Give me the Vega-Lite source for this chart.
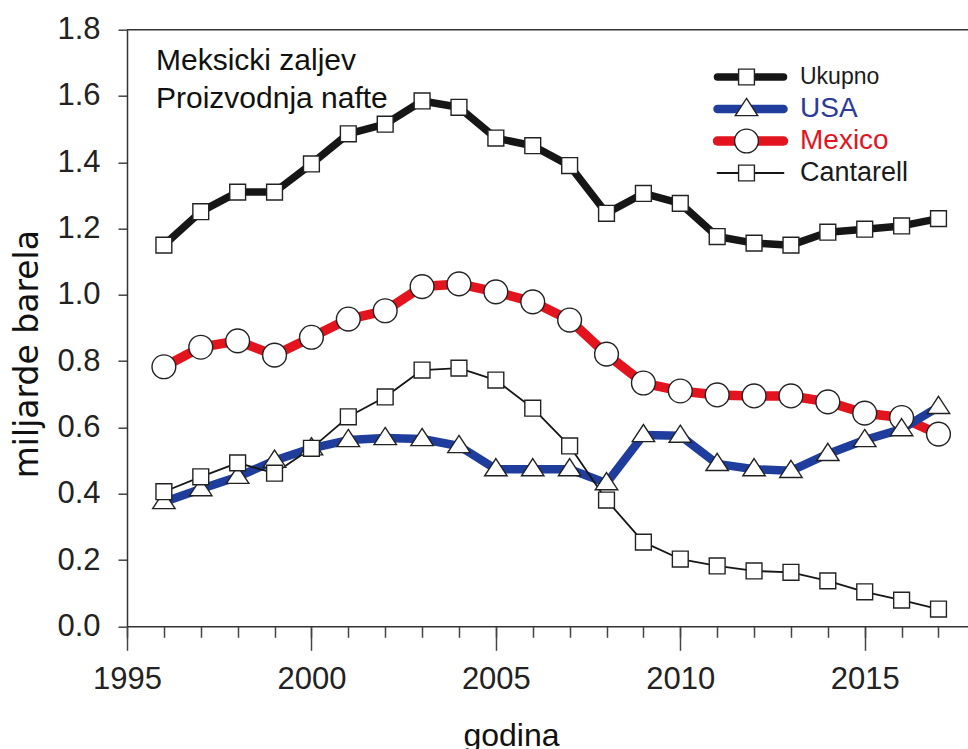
{
  "$schema": "https://vega.github.io/schema/vega-lite/v6.json",
  "width": 841,
  "height": 596.6,
  "autosize": {"type": "none"},
  "padding": {"left": 127, "top": 29.7, "right": 0, "bottom": 122.7},
  "background": "white",
  "config": {"view": {"stroke": null}, "font": "Liberation Sans"},
  "data": {"values": [
    {"series": "Mexico", "year": 1996, "value": 0.783},
    {"series": "Mexico", "year": 1997, "value": 0.842},
    {"series": "Mexico", "year": 1998, "value": 0.861},
    {"series": "Mexico", "year": 1999, "value": 0.818},
    {"series": "Mexico", "year": 2000, "value": 0.872},
    {"series": "Mexico", "year": 2001, "value": 0.927},
    {"series": "Mexico", "year": 2002, "value": 0.952},
    {"series": "Mexico", "year": 2003, "value": 1.025},
    {"series": "Mexico", "year": 2004, "value": 1.033},
    {"series": "Mexico", "year": 2005, "value": 1.009},
    {"series": "Mexico", "year": 2006, "value": 0.979},
    {"series": "Mexico", "year": 2007, "value": 0.924},
    {"series": "Mexico", "year": 2008, "value": 0.821},
    {"series": "Mexico", "year": 2009, "value": 0.734},
    {"series": "Mexico", "year": 2010, "value": 0.71},
    {"series": "Mexico", "year": 2011, "value": 0.698},
    {"series": "Mexico", "year": 2012, "value": 0.695},
    {"series": "Mexico", "year": 2013, "value": 0.695},
    {"series": "Mexico", "year": 2014, "value": 0.677},
    {"series": "Mexico", "year": 2015, "value": 0.643},
    {"series": "Mexico", "year": 2016, "value": 0.63},
    {"series": "Mexico", "year": 2017, "value": 0.58},
    {"series": "USA", "year": 1996, "value": 0.375},
    {"series": "USA", "year": 1997, "value": 0.414},
    {"series": "USA", "year": 1998, "value": 0.451},
    {"series": "USA", "year": 1999, "value": 0.5},
    {"series": "USA", "year": 2000, "value": 0.537},
    {"series": "USA", "year": 2001, "value": 0.562},
    {"series": "USA", "year": 2002, "value": 0.568},
    {"series": "USA", "year": 2003, "value": 0.565},
    {"series": "USA", "year": 2004, "value": 0.544},
    {"series": "USA", "year": 2005, "value": 0.474},
    {"series": "USA", "year": 2006, "value": 0.474},
    {"series": "USA", "year": 2007, "value": 0.474},
    {"series": "USA", "year": 2008, "value": 0.432},
    {"series": "USA", "year": 2009, "value": 0.577},
    {"series": "USA", "year": 2010, "value": 0.575},
    {"series": "USA", "year": 2011, "value": 0.49},
    {"series": "USA", "year": 2012, "value": 0.474},
    {"series": "USA", "year": 2013, "value": 0.469},
    {"series": "USA", "year": 2014, "value": 0.52},
    {"series": "USA", "year": 2015, "value": 0.562},
    {"series": "USA", "year": 2016, "value": 0.595},
    {"series": "USA", "year": 2017, "value": 0.662},
    {"series": "Cantarell", "year": 1996, "value": 0.406},
    {"series": "Cantarell", "year": 1997, "value": 0.451},
    {"series": "Cantarell", "year": 1998, "value": 0.493},
    {"series": "Cantarell", "year": 1999, "value": 0.462},
    {"series": "Cantarell", "year": 2000, "value": 0.537},
    {"series": "Cantarell", "year": 2001, "value": 0.632},
    {"series": "Cantarell", "year": 2002, "value": 0.692},
    {"series": "Cantarell", "year": 2003, "value": 0.773},
    {"series": "Cantarell", "year": 2004, "value": 0.779},
    {"series": "Cantarell", "year": 2005, "value": 0.743},
    {"series": "Cantarell", "year": 2006, "value": 0.658},
    {"series": "Cantarell", "year": 2007, "value": 0.544},
    {"series": "Cantarell", "year": 2008, "value": 0.381},
    {"series": "Cantarell", "year": 2009, "value": 0.254},
    {"series": "Cantarell", "year": 2010, "value": 0.203},
    {"series": "Cantarell", "year": 2011, "value": 0.182},
    {"series": "Cantarell", "year": 2012, "value": 0.167},
    {"series": "Cantarell", "year": 2013, "value": 0.163},
    {"series": "Cantarell", "year": 2014, "value": 0.137},
    {"series": "Cantarell", "year": 2015, "value": 0.104},
    {"series": "Cantarell", "year": 2016, "value": 0.079},
    {"series": "Cantarell", "year": 2017, "value": 0.052},
    {"series": "Ukupno", "year": 1996, "value": 1.15},
    {"series": "Ukupno", "year": 1997, "value": 1.251},
    {"series": "Ukupno", "year": 1998, "value": 1.31},
    {"series": "Ukupno", "year": 1999, "value": 1.31},
    {"series": "Ukupno", "year": 2000, "value": 1.395},
    {"series": "Ukupno", "year": 2001, "value": 1.486},
    {"series": "Ukupno", "year": 2002, "value": 1.515},
    {"series": "Ukupno", "year": 2003, "value": 1.585},
    {"series": "Ukupno", "year": 2004, "value": 1.566},
    {"series": "Ukupno", "year": 2005, "value": 1.473},
    {"series": "Ukupno", "year": 2006, "value": 1.45},
    {"series": "Ukupno", "year": 2007, "value": 1.39},
    {"series": "Ukupno", "year": 2008, "value": 1.246},
    {"series": "Ukupno", "year": 2009, "value": 1.306},
    {"series": "Ukupno", "year": 2010, "value": 1.276},
    {"series": "Ukupno", "year": 2011, "value": 1.176},
    {"series": "Ukupno", "year": 2012, "value": 1.156},
    {"series": "Ukupno", "year": 2013, "value": 1.15},
    {"series": "Ukupno", "year": 2014, "value": 1.189},
    {"series": "Ukupno", "year": 2015, "value": 1.198},
    {"series": "Ukupno", "year": 2016, "value": 1.208},
    {"series": "Ukupno", "year": 2017, "value": 1.23}
  ]},
  "resolve": {"axis": {"x": "independent"}},
  "layer": [
    {
      "mark": {"type": "line", "strokeCap": "round", "strokeJoin": "round"},
      "encoding": {
        "x": {
          "field": "year", "type": "quantitative",
          "scale": {"domain": [1995, 2017.8], "nice": false, "zero": false},
          "axis": {
            "orient": "bottom",
            "title": "godina",
            "values": [1995, 2000, 2005, 2010, 2015],
            "format": "d",
            "grid": false,
            "domainColor": "#333", "domainWidth": 1.5,
            "tickColor": "#444", "tickWidth": 1.5, "tickSize": 24,
            "labelFontSize": 31, "labelColor": "#222", "labelPadding": 14,
            "labelFlush": false, "labelOverlap": false,
            "titleFontSize": 32, "titleFontWeight": "normal", "titleColor": "#111",
            "titleX": 384, "titleY": 118.7, "titleBaseline": "alphabetic", "titleAlign": "center"
          }
        },
        "y": {
          "field": "value", "type": "quantitative",
          "scale": {"domain": [0, 1.8], "nice": false},
          "axis": {
            "title": "miljarde barela",
            "values": [0, 0.2, 0.4, 0.6, 0.8, 1.0, 1.2, 1.4, 1.6, 1.8],
            "format": ".1f",
            "grid": false,
            "domainColor": "#333", "domainWidth": 1.5,
            "tickColor": "#444", "tickWidth": 1.5, "tickSize": 9,
            "labelFontSize": 31, "labelColor": "#222", "labelPadding": 18,
            "titleFont": "DejaVu Sans", "titleFontSize": 33, "titleFontWeight": "normal", "titleColor": "#111",
            "titleX": -90, "titleY": 324, "titleAngle": -90, "titleBaseline": "alphabetic", "titleAlign": "center"
          }
        },
        "color": {
          "field": "series", "type": "nominal",
          "sort": ["Ukupno", "USA", "Mexico", "Cantarell"],
          "scale": {"range": ["#161616", "#1f3d9c", "#e3141d", "#161616"]},
          "legend": {
            "title": null, "orient": "none", "legendX": 585.5, "legendY": 31.3,
            "symbolType": "stroke", "symbolSize": 4356,
            "clipHeight": 32, "rowPadding": 0, "padding": 0,
            "labelFontSize": 27, "labelFont": "Liberation Sans",
            "encode": {
              "labels": {"update": {
                "x": {"value": 87.5},
                "fill": {"signal": "datum.label === 'USA' ? '#2a3b98' : datum.label === 'Mexico' ? '#e3141d' : '#1a1a1a'"},
                "fontSize": {"signal": "datum.label === 'Ukupno' ? 23 : datum.label === 'Cantarell' ? 27 : 28"}
              }},
              "symbols": {"update": {
                "x": {"value": 38},
                "strokeCap": {"value": "round"},
                "size": {"value": 4356},
                "strokeWidth": {"signal": "datum.value === 'Cantarell' ? 1.8 : datum.value === 'Mexico' ? 9.5 : datum.value === 'USA' ? 8.5 : 7.5"}
              }}
            }
          }
        },
        "strokeWidth": {
          "field": "series", "type": "nominal",
          "sort": ["Ukupno", "USA", "Mexico", "Cantarell"],
          "scale": {"type": "ordinal", "range": [7.5, 8.5, 9.5, 1.8]},
          "legend": null
        }
      }
    },
    {
      "mark": {"type": "point", "filled": true, "fill": "white", "strokeWidth": 1.4, "size": 4356, "opacity": 1},
      "encoding": {
        "x": {
          "field": "year", "type": "quantitative",
          "axis": {
            "orient": "bottom",
            "values": [1995,1996,1997,1998,1999,2000,2001,2002,2003,2004,2005,2006,2007,2008,2009,2010,2011,2012,2013,2014,2015,2016,2017],
            "labels": false, "domain": false, "grid": false, "title": null,
            "tickColor": "#444", "tickWidth": 1.5, "tickSize": 11
          }
        },
        "y": {"field": "value", "type": "quantitative"},
        "stroke": {
          "field": "series", "type": "nominal",
          "scale": {
            "domain": ["Ukupno", "USA", "Mexico", "Cantarell"],
            "range": ["#222222", "#222222", "#222222", "#222222"]
          },
          "legend": {
            "title": null, "orient": "none", "legendX": 585.5, "legendY": 31.3,
            "symbolSize": 4356, "symbolStrokeWidth": 1.4, "symbolOpacity": 1,
            "clipHeight": 32, "rowPadding": 0, "padding": 0,
            "labelOpacity": 0, "labelFontSize": 27, "labelFont": "Liberation Sans",
            "encode": {
              "labels": {"update": {
                "x": {"value": 87.5},
                "opacity": {"value": 0},
                "text": {"value": ""}
              }},
              "symbols": {"update": {
                "x": {"value": 38},
                "size": {"value": 4356},
                "fill": {"value": "white"},
                "fillOpacity": {"value": 1}, "strokeOpacity": {"value": 1},
                "strokeWidth": {"value": 1.4}, "opacity": {"value": 1}
              }}
            }
          }
        },
        "shape": {
          "field": "series", "type": "nominal",
          "scale": {
            "domain": ["Ukupno", "USA", "Mexico", "Cantarell"],
            "range": [
              "M-0.24,-0.24H0.24V0.24H-0.24Z",
              "M0,-0.32L0.34,0.2H-0.34Z",
              "M-0.36,0A0.36,0.36,0,1,0,0.36,0A0.36,0.36,0,1,0,-0.36,0Z",
              "M-0.24,-0.24H0.24V0.24H-0.24Z"
            ]
          },
          "legend": {
            "title": null, "orient": "none", "legendX": 585.5, "legendY": 31.3,
            "symbolSize": 4356, "symbolStrokeWidth": 1.4, "symbolOpacity": 1,
            "clipHeight": 32, "rowPadding": 0, "padding": 0,
            "labelOpacity": 0, "labelFontSize": 27, "labelFont": "Liberation Sans",
            "encode": {
              "labels": {"update": {
                "x": {"value": 87.5},
                "opacity": {"value": 0},
                "text": {"value": ""}
              }},
              "symbols": {"update": {
                "x": {"value": 38},
                "size": {"value": 4356},
                "fill": {"value": "white"},
                "fillOpacity": {"value": 1}, "strokeOpacity": {"value": 1},
                "strokeWidth": {"value": 1.4}, "opacity": {"value": 1}
              }}
            }
          }
        }
      }
    },
    {
      "data": {"values": [{}]},
      "mark": {"type": "rule", "color": "#333", "strokeWidth": 1.5},
      "encoding": {"y": {"datum": 1.8, "type": "quantitative"}}
    },
    {
      "data": {"values": [{}]},
      "mark": {"type": "text", "align": "left", "baseline": "alphabetic", "fontSize": 30, "color": "#111", "font": "Liberation Sans"},
      "encoding": {
        "x": {"datum": 1995.786, "type": "quantitative", "axis": null},
        "y": {"datum": 1.6784, "type": "quantitative"},
        "text": {"value": "Meksicki zaljev"}
      }
    },
    {
      "data": {"values": [{}]},
      "mark": {"type": "text", "align": "left", "baseline": "alphabetic", "fontSize": 30, "color": "#111", "font": "Liberation Sans"},
      "encoding": {
        "x": {"datum": 1995.786, "type": "quantitative", "axis": null},
        "y": {"datum": 1.5637, "type": "quantitative"},
        "text": {"value": "Proizvodnja nafte"}
      }
    }
  ]
}
